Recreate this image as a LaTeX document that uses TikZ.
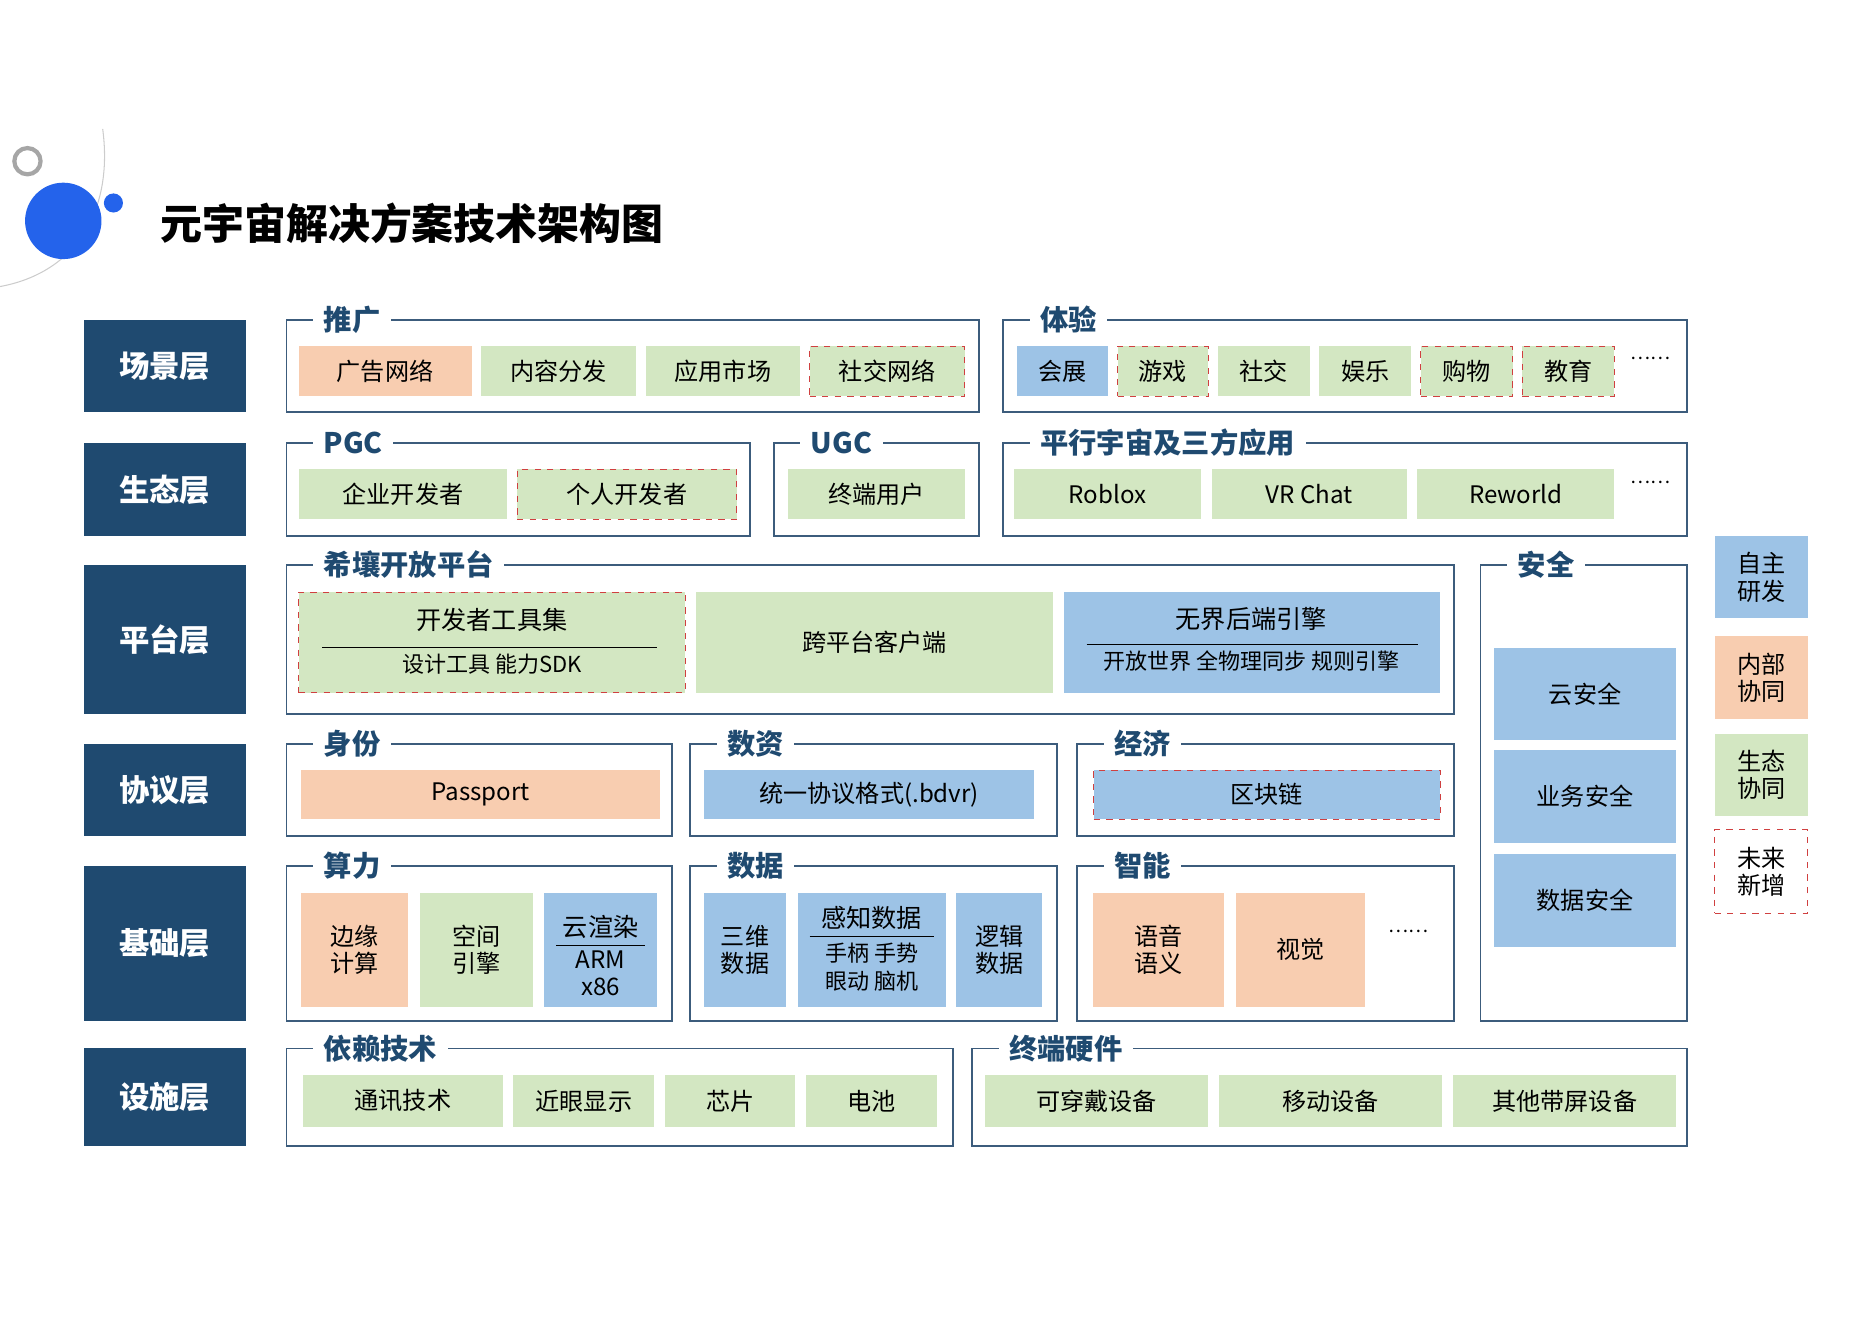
\documentclass[tikz,border=0pt]{standalone}
\usepackage{fontspec}
\setmainfont{Noto Sans CJK SC}
\usetikzlibrary{positioning}
\definecolor{navy}{HTML}{1F4A70}
\definecolor{frameline}{HTML}{3C5C7C}
\definecolor{orangefill}{HTML}{F8CDB0}
\definecolor{greenfill}{HTML}{D3E7C2}
\definecolor{bluefill}{HTML}{9DC3E6}
\definecolor{dashred}{HTML}{D04040}
\definecolor{dotblue}{HTML}{2463EB}

\tikzset{
  cellbox/.style={inner sep=0pt, align=center, font=\fontsize{11.5}{13}\selectfont},
  og/.style={cellbox, fill=orangefill},
  gr/.style={cellbox, fill=greenfill},
  bl/.style={cellbox, fill=bluefill},
  fut/.style={draw=dashred, dashed, thin},
  layerbox/.style={cellbox, fill=navy, text=white, font=\fontsize{14.5}{16}\bfseries\selectfont},
  grouptitle/.style={anchor=west, fill=white, inner xsep=5pt, inner ysep=1pt, text=navy, font=\fontsize{13.5}{15}\bfseries\selectfont},
  groupframe/.style={draw=frameline, line width=0.8pt},
}

% cell: name, x1, y1, x2, y2, style, text
\newcommand{\cell}[7]{%
  \pgfmathsetmacro{\cx}{(#2+#4)/2}\pgfmathsetmacro{\cy}{(#3+#5)/2}%
  \pgfmathsetmacro{\cw}{(#4-#2)*0.02}\pgfmathsetmacro{\ch}{(#5-#3)*0.02}%
  \node[#6, minimum width=\cw cm, minimum height=\ch cm] (#1) at (\cx,\cy) {#7};}
% frame: name, x1, y1, x2, y2, title
\newcommand{\grp}[6]{%
  \draw[groupframe] (#2,#3) rectangle (#4,#5);
  \node[grouptitle] (#1) at (#2+22,#3) {#6};}

\begin{document}
\begin{tikzpicture}[x=0.02cm, y=-0.02cm]
\useasboundingbox (0,0) rectangle (1567,1108);

% title decoration
\draw[gray!40, line width=0.5pt] (0,240) .. controls (65,228) and (95,175) .. (86,108);
\draw[gray!70, line width=2pt] (23,135) circle[radius=11];
\fill[dotblue] (53,185) circle[radius=32];
\fill[dotblue] (95,170) circle[radius=8];
\node[anchor=west, font=\fontsize{20}{22}\bfseries\selectfont] (title) at (128,187) {元宇宙解决方案技术架构图};

% layers
\cell{l1}{70}{268}{206}{345}{layerbox}{场景层}
\cell{l2}{70}{371}{206}{449}{layerbox}{生态层}
\cell{l3}{70}{473}{206}{598}{layerbox}{平台层}
\cell{l4}{70}{623}{206}{700}{layerbox}{协议层}
\cell{l5}{70}{725}{206}{855}{layerbox}{基础层}
\cell{l6}{70}{878}{206}{960}{layerbox}{设施层}

% scene layer
\grp{tg}{240}{268}{820}{345}{推广}
\cell{ad}{250}{290}{395}{332}{og}{广告网络}
\cell{cd}{403}{290}{533}{332}{gr}{内容分发}
\cell{am}{541}{290}{670}{332}{gr}{应用市场}
\cell{sn}{678}{290}{808}{332}{gr,fut}{社交网络}
\grp{ty}{840}{268}{1413}{345}{体验}
\cell{hz}{852}{290}{928}{332}{bl}{会展}
\cell{yx}{936}{290}{1012}{332}{gr,fut}{游戏}
\cell{sj}{1020}{290}{1097}{332}{gr}{社交}
\cell{yl}{1105}{290}{1182}{332}{gr}{娱乐}
\cell{gw}{1190}{290}{1267}{332}{gr,fut}{购物}
\cell{jy}{1275}{290}{1352}{332}{gr,fut}{教育}
\node[font=\small] (dots1) at (1382,300) {……};

% eco layer
\grp{pgc}{240}{371}{628}{449}{PGC}
\cell{qy}{250}{393}{425}{435}{gr}{企业开发者}
\cell{gr1}{433}{393}{617}{435}{gr,fut}{个人开发者}
\grp{ugc}{648}{371}{820}{449}{UGC}
\cell{zd}{660}{393}{808}{435}{gr}{终端用户}
\grp{pxyz}{840}{371}{1413}{449}{平行宇宙及三方应用}
\cell{rb}{849}{393}{1006}{435}{gr}{Roblox}
\cell{vr}{1015}{393}{1178}{435}{gr}{VR Chat}
\cell{rw}{1187}{393}{1352}{435}{gr}{Reworld}
\node[font=\small] (dots2) at (1382,404) {……};

% platform layer
\grp{xr}{240}{473}{1218}{598}{希壤开放平台}
\cell{kf}{250}{496}{574}{580}{gr,fut}{}
\node[cellbox, font=\fontsize{12}{14}\selectfont] (kft) at (412,519) {开发者工具集};
\draw (270,542) -- (550,542);
\node[cellbox, font=\fontsize{10.5}{12}\selectfont] (kfs) at (412,556) {设计工具\ 能力SDK};
\cell{kpt}{583}{496}{882}{580}{gr}{跨平台客户端}
\cell{wj}{891}{496}{1206}{580}{bl}{}
\node[cellbox, font=\fontsize{12}{14}\selectfont] (wjt) at (1048,518) {无界后端引擎};
\draw (910,540) -- (1188,540);
\node[cellbox, font=\fontsize{10.5}{12}\selectfont] (wjs) at (1048,554) {开放世界\ 全物理同步\ 规则引擎};

% security
\grp{aq}{1240}{473}{1413}{855}{安全}
\cell{yaq}{1251}{543}{1404}{620}{bl}{云安全}
\cell{ywaq}{1251}{628}{1404}{706}{bl}{业务安全}
\cell{sjaq}{1251}{715}{1404}{793}{bl}{数据安全}

% protocol layer
\grp{sf}{240}{623}{563}{700}{身份}
\cell{pp}{252}{645}{553}{686}{og}{Passport}
\grp{sz}{578}{623}{885}{700}{数资}
\cell{bdvr}{590}{645}{866}{686}{bl}{统一协议格式(.bdvr)}
\grp{jj}{902}{623}{1218}{700}{经济}
\cell{qkl}{916}{645}{1206}{686}{bl,fut}{区块链}

% base layer
\grp{sl}{240}{725}{563}{855}{算力}
\cell{by}{252}{748}{342}{843}{og}{边缘\\计算}
\cell{kj}{352}{748}{446}{843}{gr}{空间\\引擎}
\cell{yxr}{456}{748}{550}{843}{bl}{}
\node[cellbox, font=\fontsize{12}{14}\selectfont] (yxrt) at (503,776) {云渲染};
\draw (466,792) -- (540,792);
\node[cellbox] (yxrs) at (503,815) {ARM\\x86};
\grp{sjg}{578}{725}{885}{855}{数据}
\cell{sw}{590}{748}{658}{843}{bl}{三维\\数据};
\cell{gz}{668}{748}{792}{843}{bl}{}
\node[cellbox, font=\fontsize{12}{14}\selectfont] (gzt) at (730,769) {感知数据};
\draw (678,784) -- (782,784);
\node[cellbox, font=\fontsize{10.5}{13}\selectfont] (gzs) at (730,810) {手柄\ 手势\\眼动\ 脑机};
\cell{lj}{801}{748}{873}{843}{bl}{逻辑\\数据}
\grp{zn}{902}{725}{1218}{855}{智能}
\cell{yy}{915}{748}{1025}{843}{og}{语音\\语义}
\cell{sjue}{1035}{748}{1143}{843}{og}{视觉}
\node[font=\small] (dots3) at (1180,780) {……};

% infra layer
\grp{yl2}{240}{878}{798}{960}{依赖技术}
\cell{tx}{254}{900}{421}{944}{gr}{通讯技术}
\cell{jy2}{430}{900}{548}{944}{gr}{近眼显示}
\cell{xp}{557}{900}{666}{944}{gr}{芯片}
\cell{dc}{675}{900}{785}{944}{gr}{电池}
\grp{zdyj}{814}{878}{1413}{960}{终端硬件}
\cell{kcd}{825}{900}{1012}{944}{gr}{可穿戴设备}
\cell{yd}{1021}{900}{1208}{944}{gr}{移动设备}
\cell{qt}{1217}{900}{1404}{944}{gr}{其他带屏设备}

% legend
\cell{lg1}{1436}{449}{1514}{518}{bl}{自主\\研发}
\cell{lg2}{1436}{533}{1514}{602}{og}{内部\\协同}
\cell{lg3}{1436}{615}{1514}{683}{gr}{生态\\协同}
\cell{lg4}{1436}{695}{1514}{765}{cellbox,fut}{未来\\新增}
\end{tikzpicture}
\end{document}
